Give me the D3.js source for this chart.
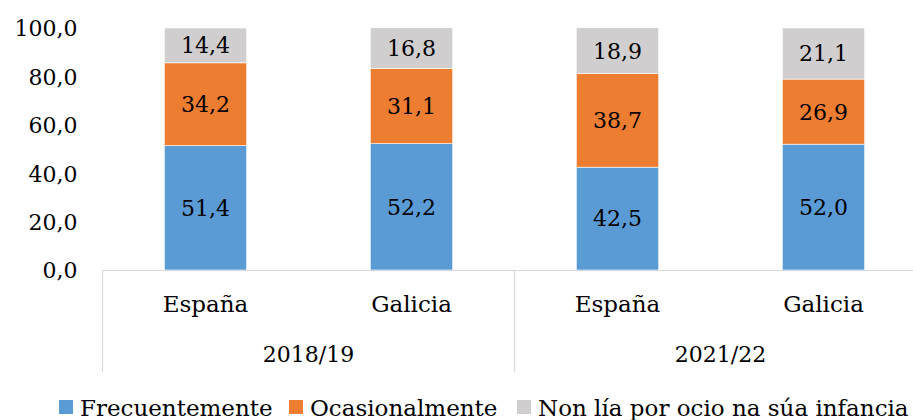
<!DOCTYPE html>
<html>
<head>
<meta charset="utf-8">
<script src="https://cdn.jsdelivr.net/npm/d3@7"></script>
<style>
  html, body { margin: 0; padding: 0; background: #fff; }
  svg text { font-family: "DejaVu Serif", serif; fill: #000; }
</style>
</head>
<body>
<svg id="chart" width="913" height="420"></svg>
<script>
// Reading habits in childhood, by territory and survey wave (%)
const periods = ["2018/19", "2021/22"];
const territories = ["España", "Galicia"];
const seriesNames = ["Frecuentemente", "Ocasionalmente", "Non lía por ocio na súa infancia"];
const seriesColors = ["#5B9BD5", "#ED7D31", "#D0CECE"];
// One value per bar, bars ordered period by period, territory by territory
const frecuentemente = [51.4, 52.2, 42.5, 52.0];
const ocasionalmente = [34.2, 31.1, 38.7, 26.9];
const nonLia = [14.4, 16.8, 18.9, 21.1];
const yTicks = [0, 20, 40, 60, 80, 100];

const bars = [];
periods.forEach((p, pi) => territories.forEach((t, ti) => {
  const i = pi * territories.length + ti;
  bars.push({ key: p + "|" + t, period: p, territory: t,
    values: [frecuentemente[i], ocasionalmente[i], nonLia[i]] });
}));

const svg = d3.select("#chart");
const plotLeft = 102.5;
const plotTop = 28;
const plotBottom = 270;
const bandW = 206;
const plotRight = plotLeft + bandW * bars.length;
const numSize = "22px";
const textSize = "23px";

const x = d3.scaleBand().domain(bars.map(d => d.key))
  .range([plotLeft, plotRight]).paddingInner(0.6).paddingOuter(0.3);
const y = d3.scaleLinear().domain([0, 100]).range([plotBottom, plotTop]);

const fmt = v => d3.format(".1f")(v).replace(".", ",");

// Y axis labels only, no line or ticks
const yAxis = svg.append("g").attr("transform", `translate(${plotLeft - 25},0)`)
  .call(d3.axisLeft(y).tickValues(yTicks).tickSize(0).tickPadding(0).tickFormat(fmt));
yAxis.select(".domain").remove();
yAxis.selectAll("text").style("font-size", numSize).style("font-family", "DejaVu Serif, serif")
  .attr("fill", "#000").attr("dy", "0.36em");

// Stacked segments with their value labels
const stack = d3.stack().keys([0, 1, 2]).value((d, k) => d.values[k]);
const layers = stack(bars);
const g = svg.append("g");
layers.forEach((layer, li) => {
  g.selectAll(null).data(layer).enter().append("rect")
    .attr("x", d => x(d.data.key))
    .attr("width", x.bandwidth())
    .attr("y", d => y(d[1]))
    .attr("height", d => y(d[0]) - y(d[1]))
    .attr("fill", seriesColors[li])
    .attr("stroke", "#fff").attr("stroke-width", 0.6);
  g.selectAll(null).data(layer).enter().append("text")
    .attr("x", d => x(d.data.key) + x.bandwidth() / 2)
    .attr("y", d => (y(d[0]) + y(d[1])) / 2)
    .attr("dy", "0.36em")
    .attr("text-anchor", "middle")
    .style("font-size", numSize)
    .text(d => fmt(d.data.values[li]));
});

// Category axis: baseline plus group separators
const axisColor = "#d9d9d9";
svg.append("line").attr("x1", plotLeft).attr("x2", plotRight)
  .attr("y1", plotBottom + 0.5).attr("y2", plotBottom + 0.5)
  .attr("stroke", axisColor).attr("stroke-width", 1.2);
const groupEdges = d3.range(periods.length + 1).map(i => plotLeft + i * bandW * territories.length);
svg.selectAll(null).data(groupEdges).enter().append("line")
  .attr("x1", d => d).attr("x2", d => d)
  .attr("y1", plotBottom).attr("y2", 372)
  .attr("stroke", axisColor).attr("stroke-width", 1.2);

svg.selectAll(null).data(bars).enter().append("text")
  .attr("x", d => x(d.key) + x.bandwidth() / 2)
  .attr("y", 312)
  .attr("text-anchor", "middle")
  .style("font-size", textSize)
  .text(d => d.territory);

svg.selectAll(null).data(periods).enter().append("text")
  .attr("x", (d, i) => (groupEdges[i] + groupEdges[i + 1]) / 2)
  .attr("y", 362)
  .attr("text-anchor", "middle")
  .style("font-size", numSize)
  .text(d => d);

// Legend
const legendX = [59, 289, 517];
const legend = svg.append("g");
seriesNames.forEach((name, i) => {
  legend.append("rect").attr("x", legendX[i]).attr("y", 400)
    .attr("width", 14).attr("height", 14).attr("fill", seriesColors[i]);
  legend.append("text").attr("x", legendX[i] + 21).attr("y", 416)
    .style("font-size", textSize).text(name);
});
</script>
</body>
</html>
